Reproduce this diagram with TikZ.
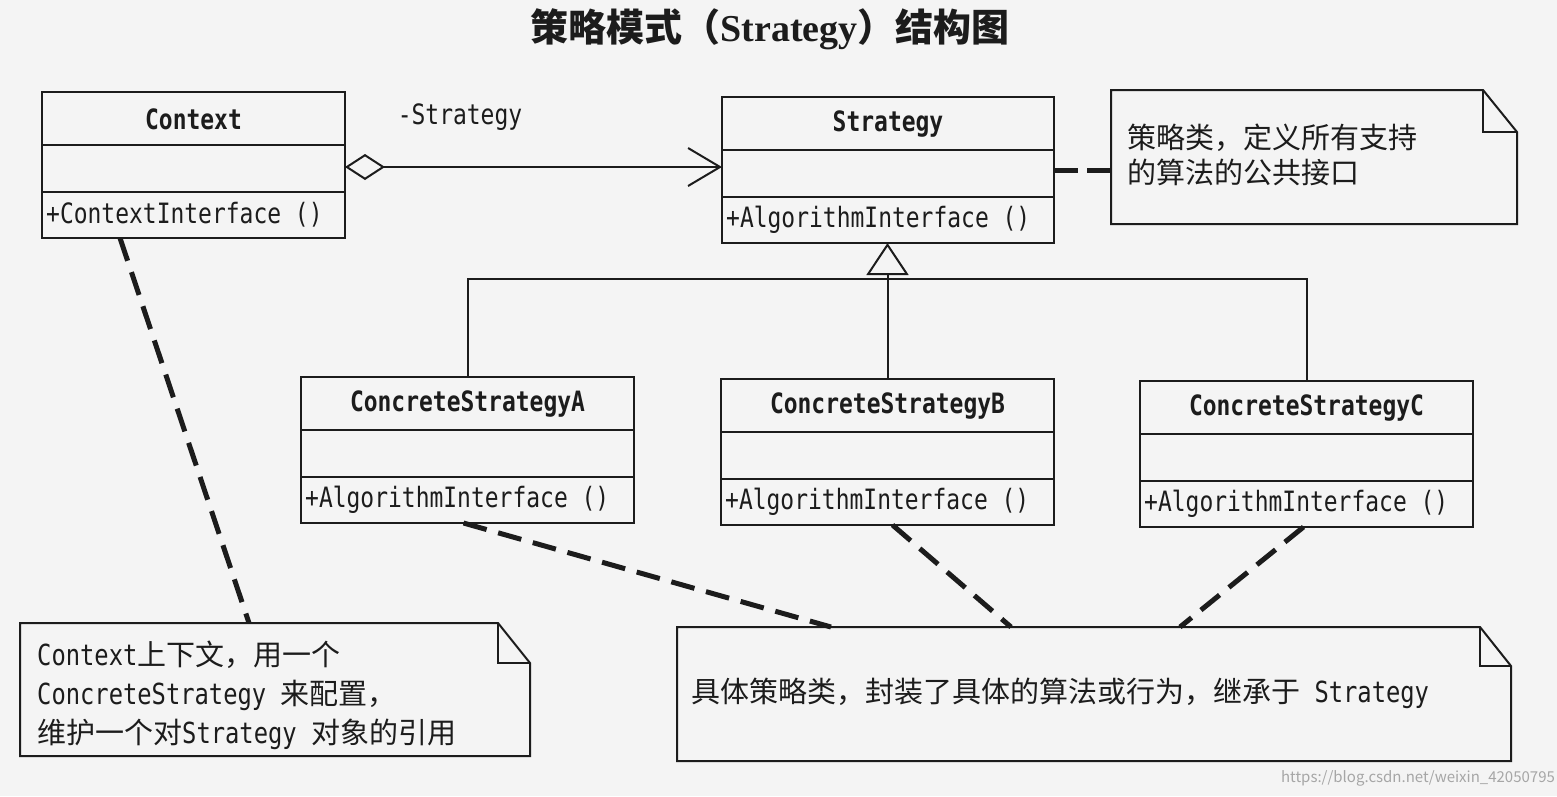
\documentclass[tikz,border=0pt]{standalone}
\usepackage{fontspec}
\setmainfont{Noto Sans CJK SC}
\newfontfamily\lat[FakeStretch=0.82]{DejaVu Sans Mono}
\newfontfamily\titlelat{Liberation Serif}
\usetikzlibrary{arrows.meta,calc}
\definecolor{ink}{HTML}{1C1C1C}
\definecolor{paper}{HTML}{F4F4F4}
\tikzset{
  clsbox/.style={draw=ink, line width=2.6pt, inner sep=0pt, outer sep=0pt, minimum height=146},
  clsline/.style={draw=ink, line width=2.6pt},
  clsname/.style={font=\fontsize{28}{30}\selectfont\lat\bfseries, text=ink, inner sep=0pt},
  clsmeth/.style={font=\fontsize{28}{30}\selectfont\lat, text=ink, inner sep=0pt},
  notebox/.style={draw=none, inner sep=0pt, outer sep=0pt},
  noteline/.style={draw=ink, line width=2pt, line join=miter},
  notetext/.style={font=\fontsize{29}{39}\selectfont, text=ink, inner sep=0pt, align=left},
  dashlink/.style={draw=ink, line width=5pt, dash pattern=on 24pt off 12pt},
  thinlink/.style={draw=ink, line width=2pt},
}
\newcommand\umlcls[6]{%
  \node[clsbox, minimum width=#4, anchor=north west] (#1) at (#2,#3) {};
  \node[clsname] (#1-t) at ([yshift=-27]#1.north) {#5};
  \draw[clsline] ([yshift=-53]#1.north west) -- ([yshift=-53]#1.north east);
  \draw[clsline] ([yshift=-100]#1.north west) -- ([yshift=-100]#1.north east);
  \node[clsmeth, anchor=west] (#1-m) at ([yshift=23, xshift=4]#1.south west) {#6};
}
\newcommand\umlnote[6]{% name, x, y, w, h, fold
  \node[notebox, minimum width=#4, minimum height=#5, anchor=north west] (#1) at (#2,#3) {};
  \draw[noteline] (#1.north west) -- ([xshift=-#6]#1.north east) -- ([yshift=-#6-8]#1.north east)
     -- (#1.south east) -- (#1.south west) -- cycle;
  \draw[noteline] ([xshift=-#6]#1.north east) |- ([yshift=-#6-8]#1.north east);
}
\begin{document}
\begin{tikzpicture}[x=1pt,y=-1pt]
\useasboundingbox (0,0) rectangle (1557,796);
\fill[paper] (0,0) rectangle (1557,796);

\node[font=\fontsize{38}{40}\selectfont\bfseries, text=ink, inner sep=0pt] (title) at (770,29)
  {策略模式（{\titlelat\bfseries Strategy}）结构图};

\umlcls{ctx}{42}{92}{303}{Context}{+ContextInterface ()}
\umlcls{str}{722}{97}{332}{Strategy}{+AlgorithmInterface ()}
\umlcls{ca}{301}{377}{333}{ConcreteStrategyA}{+AlgorithmInterface ()}
\umlcls{cb}{721}{379}{333}{ConcreteStrategyB}{+AlgorithmInterface ()}
\umlcls{cc}{1140}{381}{333}{ConcreteStrategyC}{+AlgorithmInterface ()}

% aggregation
\draw[thinlink, {Diamond[open,length=40pt,width=26pt,line width=2pt]}-{Straight Barb[length=32pt,width=38pt,line width=2pt]}]
  ([yshift=-2]ctx.east) -- ([yshift=-2]ctx.east -| str.west);
\node[clsmeth] (rolelbl) at (460,117) {-Strategy};

% generalization
\coordinate (bar) at (0,279);
\draw[thinlink, -{Triangle[open,length=32pt,width=42pt,line width=2pt]}] (cb.north) -- (cb.north |- str.south);
\draw[thinlink] (ca.north) |- (bar -| cc.north) -- (cc.north);

% notes
\umlnote{n1}{1111}{90}{406}{134}{34}
\node[notetext, anchor=north west, font=\fontsize{29}{35}\selectfont] (n1t) at ([xshift=16,yshift=-34]n1.north west)
  {策略类，定义所有支持\\的算法的公共接口};
\draw[dashlink, dash pattern=on 24pt off 9pt] (str.east) -- (str.east -| n1.west);

\umlnote{n2}{20}{623}{510}{133}{32}
\node[notetext, anchor=north west] (n2t) at ([xshift=17,yshift=-18]n2.north west)
  {{\lat Context}上下文，用一个\\{\lat ConcreteStrategy }来配置，\\维护一个对{\lat Strategy }对象的引用};
\draw[dashlink] ([xshift=78]ctx.south west) -- ([xshift=229]n2.north west);

\umlnote{n3}{677}{627}{834}{134}{31}
\node[notetext, anchor=west] (n3t) at ([xshift=14,yshift=-66]n3.north west)
  {具体策略类，封装了具体的算法或行为，继承于{\lat\ Strategy}};
\draw[dashlink] ([xshift=-4]ca.south) -- ([xshift=154]n3.north west);
\draw[dashlink] ([xshift=5]cb.south) -- ([xshift=334]n3.north west);
\draw[dashlink] ([xshift=-3]cc.south) -- ([xshift=503]n3.north west);

\node[font=\fontsize{15}{15}\selectfont, text=black!35, inner sep=0pt] (wm) at (1418,778)
  {https://blog.csdn.net/weixin\_42050795};
\end{tikzpicture}
\end{document}
